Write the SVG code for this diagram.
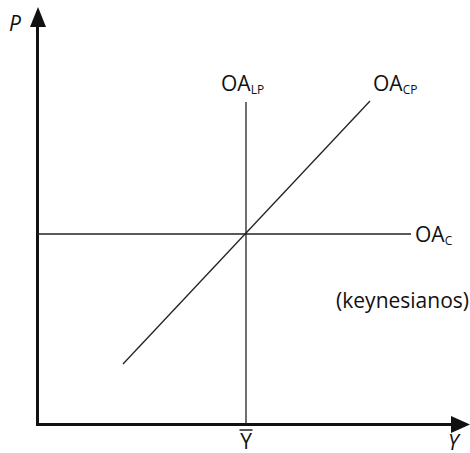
<svg xmlns="http://www.w3.org/2000/svg" width="470" height="453" viewBox="0 0 470 453">
<style>
text{font-family:"Open Sans","Liberation Sans",sans-serif;fill:#111;font-size:21px}
.ax{stroke:#111;stroke-width:3;fill:none}
.ln{stroke:#222;stroke-width:1.3;fill:none}
.sub{font-size:12px}
</style>
<rect width="470" height="453" fill="#fff"/>
<g id="connectors">
<line class="ax" x1="37.5" y1="426" x2="37.5" y2="22"/>
<polygon points="38,7 30,27 46,27" fill="#111"/>
<line class="ax" x1="36" y1="424.5" x2="454" y2="424.5"/>
<polygon points="470,424.5 451,416 451,433" fill="#111"/>
<line class="ln" x1="246" y1="102" x2="246" y2="424"/>
<line class="ln" x1="37" y1="234" x2="411" y2="234"/>
<line class="ln" x1="123" y1="364" x2="370" y2="101"/>
</g>
<g id="axis-p"><text x="9" y="31" font-style="italic">P</text></g>
<g id="axis-y"><text x="448" y="450" font-style="italic" font-size="20">Y</text></g>
<g id="ybar"><text x="246" y="449" text-anchor="middle">Y</text><line x1="239.5" y1="430" x2="252.5" y2="430" stroke="#111" stroke-width="1.4"/></g>
<g id="oalp"><text x="221" y="91">OA<tspan class="sub" dy="3">LP</tspan></text></g>
<g id="oacp"><text x="373" y="91">OA<tspan class="sub" dy="3">CP</tspan></text></g>
<g id="oac"><text x="415" y="242">OA<tspan class="sub" dy="3">C</tspan></text></g>
<g id="keynes"><text x="469" y="308" text-anchor="end">(keynesianos)</text></g>
</svg>
